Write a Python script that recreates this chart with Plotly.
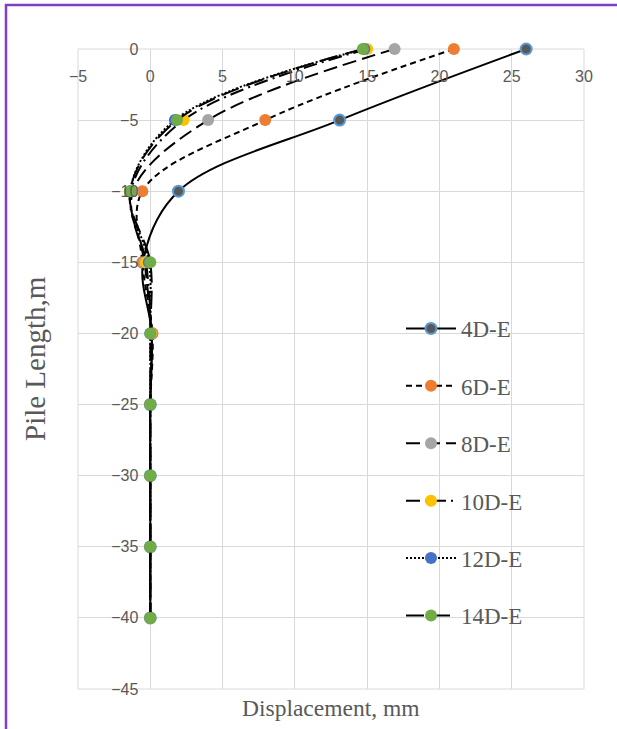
import plotly.graph_objects as go

# ---- data ----
depth = [0, -5, -10, -15, -20, -25, -30, -35, -40]
series_names = ["4D-E", "6D-E", "8D-E", "10D-E", "12D-E", "14D-E"]
disp_4D = [26.0, 13.1, 1.95, -0.5, 0.1, 0.0, 0.0, 0.0, 0.0]
disp_6D = [21.0, 7.95, -0.55, -0.55, 0.15, 0.0, 0.0, 0.0, 0.0]
disp_8D = [16.9, 4.0, -1.2, -0.4, 0.05, 0.0, 0.0, 0.0, 0.0]
disp_10D = [15.0, 2.3, -1.35, -0.3, 0.05, 0.0, 0.0, 0.0, 0.0]
disp_12D = [14.8, 1.7, -1.4, -0.1, 0.0, 0.0, 0.0, 0.0, 0.0]
disp_14D = [14.7, 1.85, -1.4, 0.0, 0.0, 0.0, 0.0, 0.0, 0.0]
x_ticks = [-5, 0, 5, 10, 15, 20, 25, 30]
y_ticks = [0, -5, -10, -15, -20, -25, -30, -35, -40, -45]

series_values = [disp_4D, disp_6D, disp_8D, disp_10D, disp_12D, disp_14D]
dashes = ["solid", "6px,4px", "14px,6px", "14px,5px,2px,5px", "2px,2px", "18px,8px"]
marker_fill = ["#595959", "#ED7D31", "#A5A5A5", "#FFC000", "#4472C4", "#70AD47"]
marker_edge = ["#5B9BD5", "#ED7D31", "#A5A5A5", "#FFC000", "#4472C4", "#70AD47"]

W, H = 617, 729
ML, MR, MT, MB = 78, 33, 49, 40
PW, PH = W - ML - MR, H - MT - MB

def px_x(p):
    return (p - ML) / PW

def px_y(p):
    return 1 - (p - MT) / PH

fig = go.Figure()
for i, (name, vals) in enumerate(zip(series_names, series_values)):
    fig.add_trace(go.Scatter(
        x=vals, y=depth, name=name, mode="lines+markers",
        legendgroup=name, cliponaxis=False,
        line=dict(color="#000000", width=2, dash=dashes[i], shape="spline", smoothing=1),
        marker=dict(size=11 if i == 0 else 12, color=marker_fill[i],
                    line=dict(color=marker_edge[i], width=2 if i == 0 else 0)),
    ))

grid = "#D9D9D9"
tick_font = dict(family="Liberation Sans, Arial, sans-serif", size=16, color="#595959")
serif = "Liberation Serif, Times New Roman, serif"

fig.update_layout(
    width=W, height=H,
    margin=dict(l=ML, r=MR, t=MT, b=MB),
    paper_bgcolor="white", plot_bgcolor="white",
    showlegend=True,
    legend=dict(x=px_x(401), y=px_y(307), xanchor="left", yanchor="top",
                bgcolor="rgba(0,0,0,0)", itemwidth=50, tracegroupgap=24.5,
                font=dict(family=serif, size=23, color="#595959")),
    xaxis=dict(range=[-5, 30], tickvals=x_ticks, side="top",
               ticklabelposition="inside", ticklabeloverflow="allow",
               ticklabelstandoff=19,
               showgrid=True, gridcolor=grid, gridwidth=1, zeroline=False,
               showline=False, ticks="", tickfont=tick_font),
    yaxis=dict(range=[-45, 0], tickvals=y_ticks, anchor="free",
               position=5 / 35, showgrid=True, gridcolor=grid, gridwidth=1,
               zeroline=False, showline=False, ticks="", ticklabelstandoff=12,
               tickfont=tick_font),
    annotations=[
        dict(text="Displacement, mm", x=px_x(331), y=px_y(708), xref="paper", yref="paper",
             showarrow=False, xanchor="center", yanchor="middle",
             font=dict(family=serif, size=23.5, color="#595959")),
        dict(text="Pile Length,m", x=px_x(35), y=px_y(359), xref="paper", yref="paper",
             showarrow=False, textangle=-90, xanchor="center", yanchor="middle",
             font=dict(family=serif, size=29, color="#595959")),
    ],
    shapes=[
        dict(type="rect", xref="paper", yref="paper",
             x0=px_x(6), x1=px_x(640), y0=px_y(760), y1=px_y(5),
             line=dict(color="#7F3FBF", width=2.5), fillcolor="rgba(0,0,0,0)", layer="above"),
        dict(type="rect", xref="paper", yref="paper", x0=0, x1=1, y0=0, y1=1,
             line=dict(color=grid, width=1), fillcolor="rgba(0,0,0,0)", layer="below"),
    ],
)

fig.write_html("out.html", config={"displayModeBar": False},
               post_script="document.body.style.margin='0px';")
